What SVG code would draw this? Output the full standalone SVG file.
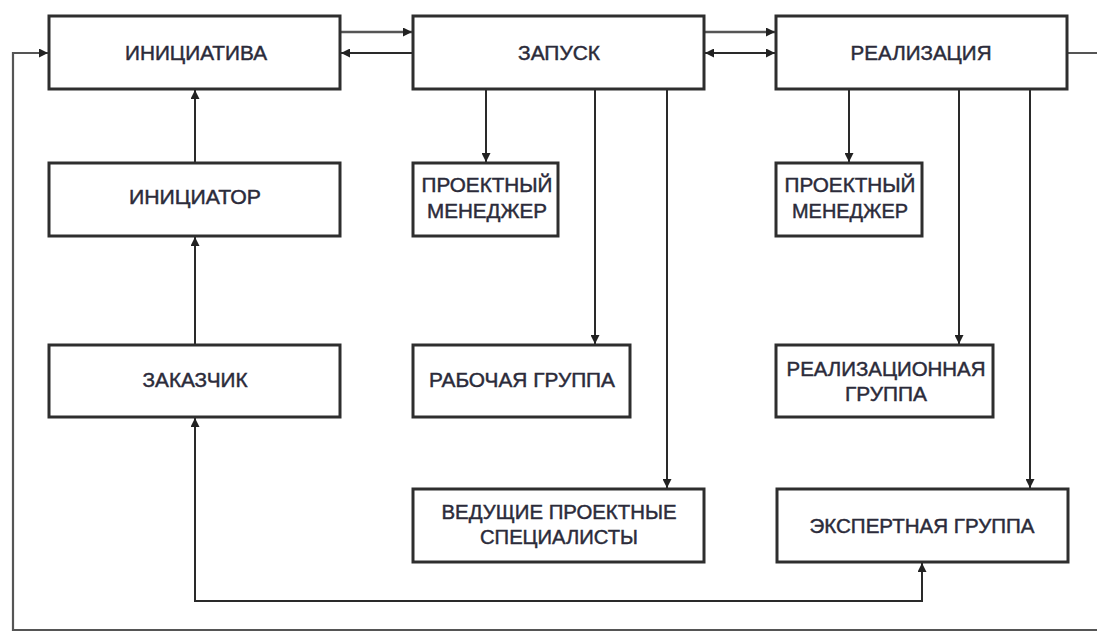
<svg xmlns="http://www.w3.org/2000/svg" width="1097" height="632" viewBox="0 0 1097 632">
<style>
.box{fill:#fff;stroke:#2e2e2e;stroke-width:3}
.lbl{font-family:"Liberation Sans",Arial,sans-serif;font-size:20px;fill:#2b2b3a;stroke:#2b2b3a;stroke-width:0.45;text-anchor:middle}
.ln{fill:none;stroke:#2a2a2a;stroke-width:2}
.lt{fill:none;stroke:#555;stroke-width:2.5}
.fb{fill:none;stroke:#555;stroke-width:2.2}
</style>
<defs>
<marker id="ah" viewBox="0 0 10 10" refX="10" refY="5" markerWidth="9" markerHeight="9" markerUnits="userSpaceOnUse" orient="auto-start-reverse">
<path d="M0,0 L10,5 L0,10 z" fill="#222"/>
</marker>
</defs>
<rect width="1097" height="632" fill="#fff"/>
<g id="connectors">
<line class="lt" x1="340" y1="32" x2="412" y2="32" marker-end="url(#ah)"/>
<line class="ln" x1="412" y1="53" x2="341" y2="53" marker-end="url(#ah)"/>
<line class="lt" x1="704" y1="32" x2="775" y2="32" marker-end="url(#ah)"/>
<line class="ln" x1="705" y1="53" x2="775" y2="53" marker-start="url(#ah)" marker-end="url(#ah)"/>
<path class="fb" d="M1067,53 H1102 V630 H13 V53 H48" marker-end="url(#ah)"/>
<line class="ln" x1="195" y1="163" x2="195" y2="90" marker-end="url(#ah)"/>
<line class="ln" x1="195" y1="345" x2="195" y2="237" marker-end="url(#ah)"/>
<path class="ln" d="M195,418 V601 H922 V563" marker-start="url(#ah)" marker-end="url(#ah)"/>
<line class="ln" x1="486" y1="89" x2="486" y2="162" marker-end="url(#ah)"/>
<line class="ln" x1="595" y1="89" x2="595" y2="344" marker-end="url(#ah)"/>
<line class="ln" x1="667" y1="89" x2="667" y2="488" marker-end="url(#ah)"/>
<line class="ln" x1="849" y1="89" x2="849" y2="162" marker-end="url(#ah)"/>
<line class="ln" x1="959" y1="89" x2="959" y2="344" marker-end="url(#ah)"/>
<line class="ln" x1="1030" y1="89" x2="1030" y2="488" marker-end="url(#ah)"/>
</g>
<g id="initsiativa"><rect class="box" x="49" y="16" width="291" height="73"/><text class="lbl" x="196" y="60" textLength="142" lengthAdjust="spacingAndGlyphs">ИНИЦИАТИВА</text></g>
<g id="zapusk"><rect class="box" x="413" y="16" width="291" height="73"/><text class="lbl" x="559" y="60" textLength="82" lengthAdjust="spacingAndGlyphs">ЗАПУСК</text></g>
<g id="realizatsiya"><rect class="box" x="776" y="16" width="291" height="73"/><text class="lbl" x="921" y="60" textLength="141" lengthAdjust="spacingAndGlyphs">РЕАЛИЗАЦИЯ</text></g>
<g id="initsiator"><rect class="box" x="49" y="163" width="291" height="73"/><text class="lbl" x="195" y="204" textLength="132" lengthAdjust="spacingAndGlyphs">ИНИЦИАТОР</text></g>
<g id="zakazchik"><rect class="box" x="49" y="345" width="291" height="72"/><text class="lbl" x="195" y="387" textLength="105" lengthAdjust="spacingAndGlyphs">ЗАКАЗЧИК</text></g>
<g id="pm1"><rect class="box" x="413" y="163" width="145" height="73"/><text class="lbl" x="487" y="192" textLength="131" lengthAdjust="spacingAndGlyphs">ПРОЕКТНЫЙ</text><text class="lbl" x="487" y="218" textLength="120" lengthAdjust="spacingAndGlyphs">МЕНЕДЖЕР</text></g>
<g id="rabochaya"><rect class="box" x="413" y="345" width="217" height="72"/><text class="lbl" x="522" y="387" textLength="186" lengthAdjust="spacingAndGlyphs">РАБОЧАЯ ГРУППА</text></g>
<g id="veduschie"><rect class="box" x="413" y="489" width="291" height="73"/><text class="lbl" x="559" y="519" textLength="235" lengthAdjust="spacingAndGlyphs">ВЕДУЩИЕ ПРОЕКТНЫЕ</text><text class="lbl" x="559" y="544" textLength="158" lengthAdjust="spacingAndGlyphs">СПЕЦИАЛИСТЫ</text></g>
<g id="pm2"><rect class="box" x="776" y="163" width="146" height="73"/><text class="lbl" x="850" y="192" textLength="131" lengthAdjust="spacingAndGlyphs">ПРОЕКТНЫЙ</text><text class="lbl" x="850" y="218" textLength="116" lengthAdjust="spacingAndGlyphs">МЕНЕДЖЕР</text></g>
<g id="realiz-gruppa"><rect class="box" x="776" y="345" width="217" height="72"/><text class="lbl" x="886" y="376" textLength="199" lengthAdjust="spacingAndGlyphs">РЕАЛИЗАЦИОННАЯ</text><text class="lbl" x="886" y="401" textLength="82" lengthAdjust="spacingAndGlyphs">ГРУППА</text></g>
<g id="ekspertnaya"><rect class="box" x="777" y="489" width="291" height="73"/><text class="lbl" x="922" y="533" textLength="225" lengthAdjust="spacingAndGlyphs">ЭКСПЕРТНАЯ ГРУППА</text></g>
</svg>
